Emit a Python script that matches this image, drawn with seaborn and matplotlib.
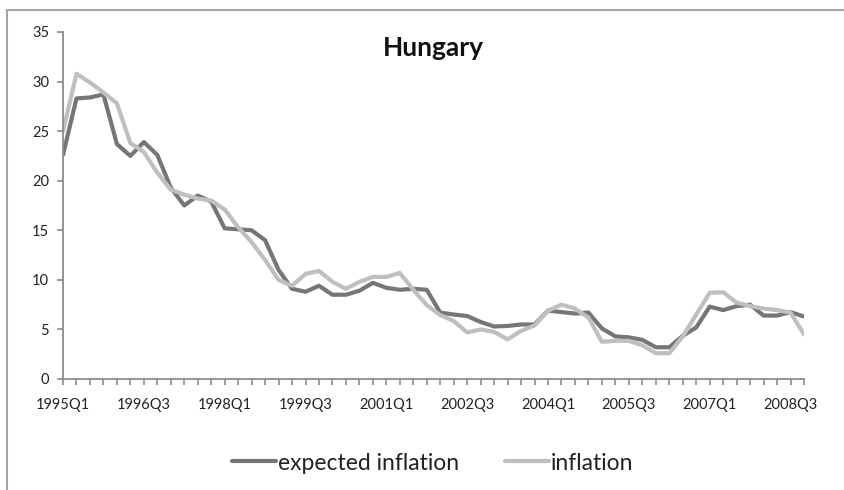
import seaborn as sns
import matplotlib.pyplot as plt
import pandas as pd
from matplotlib.lines import Line2D

# quarterly data, 1995Q1 - 2008Q4
quarters = [f"{y}Q{q}" for y in range(1995, 2009) for q in range(1, 5)]

expected_inflation = [
    22.6, 28.3, 28.4, 28.7, 23.7, 22.5, 23.9, 22.6,
    19.3, 17.5, 18.5, 17.9, 15.2, 15.1, 15.0, 14.0,
    11.0, 9.1, 8.8, 9.4, 8.5, 8.5, 8.9, 9.7,
    9.2, 9.0, 9.1, 9.0, 6.7, 6.5, 6.35, 5.75,
    5.3, 5.35, 5.5, 5.5, 6.9, 6.75, 6.6, 6.7,
    5.1, 4.3, 4.2, 3.95, 3.2, 3.2, 4.35, 5.2,
    7.3, 6.95, 7.35, 7.5, 6.4, 6.4, 6.75, 6.3,
]
inflation = [
    25.0, 30.8, 29.9, 28.9, 27.8, 23.8, 22.9, 20.8,
    19.1, 18.6, 18.2, 18.0, 17.1, 15.3, 13.8, 12.0,
    10.0, 9.4, 10.6, 10.9, 9.8, 9.1, 9.8, 10.3,
    10.3, 10.7, 9.0, 7.45, 6.45, 5.85, 4.7, 5.0,
    4.75, 4.0, 4.85, 5.4, 6.9, 7.5, 7.1, 6.2,
    3.75, 3.85, 3.85, 3.4, 2.6, 2.6, 4.3, 6.5,
    8.7, 8.75, 7.7, 7.35, 7.1, 6.95, 6.7, 4.5,
]
series_names = ["expected inflation", "inflation"]
colors = {"expected inflation": "#767676", "inflation": "#BFBFBF"}

df = pd.DataFrame({
    "idx": list(range(len(quarters))) * 2,
    "value": expected_inflation + inflation,
    "series": [series_names[0]] * len(quarters) + [series_names[1]] * len(quarters),
})

sns.set_style("white")
plt.rcParams["font.family"] = ["Lato", "DejaVu Sans"]

fig = plt.figure(figsize=(8.44, 4.90), dpi=100)
ax = fig.add_axes([63 / 844, 1 - 379 / 490, (804 - 63) / 844, (379 - 32) / 490])

sns.lineplot(data=df, x="idx", y="value", hue="series", palette=colors,
             linewidth=3.0, ax=ax, legend=False)

axis_col = "#8C8C8C"
ax.set_xlim(0, len(quarters) - 1)
ax.set_ylim(0, 35)
ax.set_yticks(range(0, 36, 5))
ax.set_xticks(range(len(quarters)), minor=True)
ax.set_xticks(range(0, len(quarters), 6))
ax.set_xticklabels(quarters[::6])
ax.set_xlabel("")
ax.set_ylabel("")
for s in ["top", "right"]:
    ax.spines[s].set_visible(False)
for s in ["left", "bottom"]:
    ax.spines[s].set_color(axis_col)
    ax.spines[s].set_linewidth(1.3)
ax.tick_params(axis="y", which="major", direction="out", length=4, width=1.2,
               color=axis_col, labelsize=10.5, labelcolor="#222222", pad=6, left=True)
ax.tick_params(axis="x", which="both", direction="out", length=4, width=1.2,
               color=axis_col, labelsize=10.5, labelcolor="#222222", pad=10, bottom=True)

ax.text(0.5, 0.955, "Hungary", transform=ax.transAxes, ha="center", va="center",
        fontsize=19, fontweight="bold", color="#111111")

handles = [Line2D([0], [0], color=colors[n], lw=3.0) for n in series_names]
fig.legend(handles, series_names, loc="center", bbox_to_anchor=(433 / 844, 1 - 463 / 490),
           ncol=2, frameon=False, fontsize=16.5, handlelength=1.9,
           handletextpad=0.1, columnspacing=2.0, labelcolor="#222222")

# outer chart border (only top and left edges are visible)
fig.add_artist(Line2D([7 / 844, 7 / 844], [0, 1 - 10 / 490], transform=fig.transFigure,
                      color="#A6A6A6", lw=1.5))
fig.add_artist(Line2D([7 / 844, 1], [1 - 10 / 490, 1 - 10 / 490], transform=fig.transFigure,
                      color="#A6A6A6", lw=1.5))

fig.savefig("out.png", dpi=100)
